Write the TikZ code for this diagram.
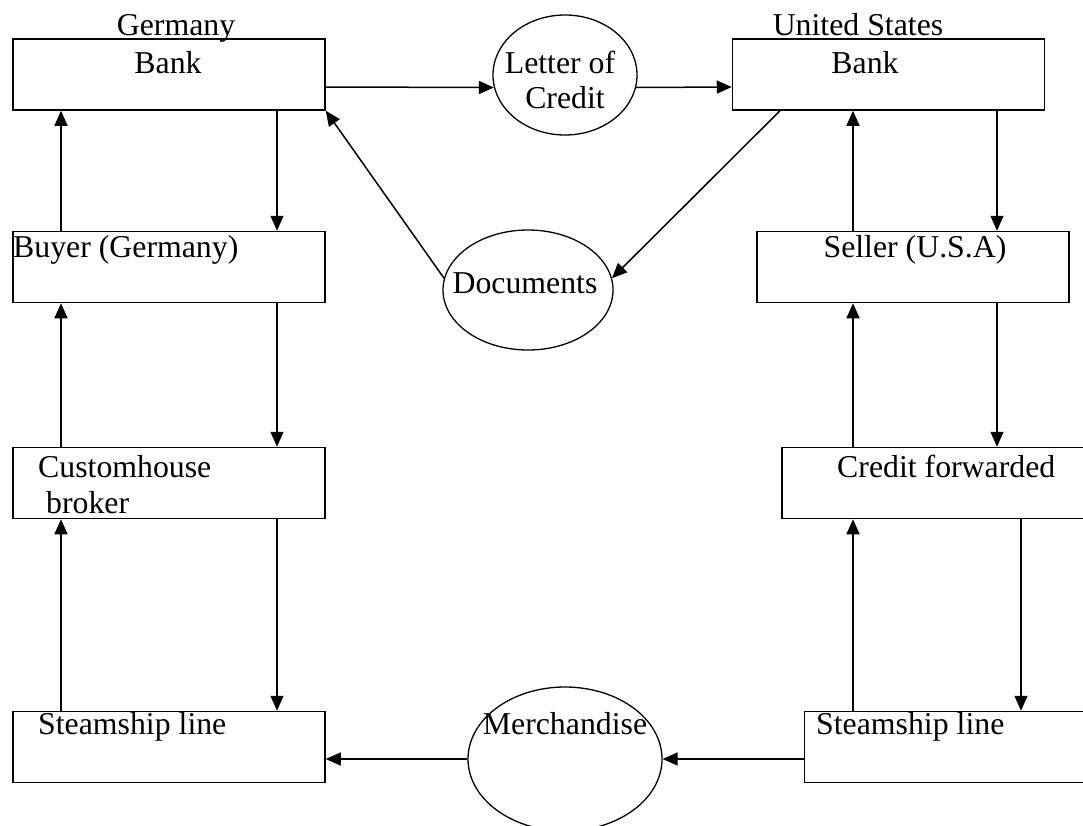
\documentclass[tikz,border=0pt]{standalone}
\usepackage{fontspec}
\setmainfont{Liberation Serif}
\usetikzlibrary{arrows.meta,shapes.geometric}
\tikzset{
  box/.style={draw, line width=1.5pt, rectangle, inner sep=0pt, minimum width=312pt, minimum height=71pt},
  oval/.style={draw, line width=1.3pt, ellipse, inner sep=0pt},
  arr/.style={line width=1.5pt, -{Triangle[length=15pt,width=13pt]}},
  txt/.style={inner sep=0pt, font=\fontsize{31.8}{38}\selectfont},
}
\begin{document}
\begin{tikzpicture}[x=1pt,y=-1pt]
\useasboundingbox[fill=white] (0,0) rectangle (1083,825);
\clip (0,0) rectangle (1083,825);
% boxes
\node[box] (gbank) at (169,74.5) {};
\node[box] (ubank) at (888.5,74.5) {};
\node[box] (buyer) at (169,267) {};
\node[box] (seller) at (913,267) {};
\node[box] (broker) at (169,483) {};
\node[box] (credit) at (938,483) {};
\node[box] (steamL) at (169,747) {};
\node[box] (steamR) at (960.5,747) {};
% ellipses
\node[oval, minimum width=144pt, minimum height=120pt] (loc) at (565,75) {};
\node[oval, minimum width=170pt, minimum height=120pt] (docs) at (528,290) {};
\node[oval, minimum width=194pt, minimum height=144pt] (merch) at (565,759) {};
% texts
\node[txt, anchor=base] (tgermany) at (176,35) {Germany};
\node[txt, anchor=base] (tgbank) at (168,73) {Bank};
\node[txt, anchor=base] (tus) at (858,35.5) {United States};
\node[txt, anchor=base] (tubank) at (865,73) {Bank};
\node[txt, anchor=base] (tloc1) at (560,73) {Letter of};
\node[txt, anchor=base] (tloc2) at (565,108) {Credit};
\node[txt, anchor=base] (tdocs) at (525,293) {Documents};
\node[txt, anchor=base west] (tbuyer) at (13,257) {Buyer (Germany)};
\node[txt, anchor=base] (tseller) at (915,257) {Seller (U.S.A)};
\node[txt, anchor=base west] (tbroker1) at (38,477) {Customhouse};
\node[txt, anchor=base west] (tbroker2) at (46,513) {broker};
\node[txt, anchor=base west] (tcredit) at (837,477) {Credit forwarded};
\node[txt, anchor=base west] (tsteamL) at (38,734) {Steamship line};
\node[txt, anchor=base west] (tsteamR) at (816,734) {Steamship line};
\node[txt, anchor=base] (tmerch) at (565,734) {Merchandise};
% connectors top
\draw[arr] ([yshift=-12.5pt]gbank.east) -- ([yshift=-12.5pt,xshift=1.5pt]loc.west);
\draw[arr] ([yshift=-12.5pt,xshift=-1.5pt]loc.east) -- ([yshift=-12.5pt]ubank.west);
\draw[arr] (docs.172) -- (gbank.south east);
\draw[arr] (ubank.south -| 780,0) -- (docs.8);
% left column
\draw[arr] (buyer.north -| 61,0) -- (gbank.south -| 61,0);
\draw[arr] (gbank.south -| 277,0) -- (buyer.north -| 277,0);
\draw[arr] (broker.north -| 61,0) -- (buyer.south -| 61,0);
\draw[arr] (buyer.south -| 277,0) -- (broker.north -| 277,0);
\draw[arr] (steamL.north -| 61,0) -- (broker.south -| 61,0);
\draw[arr] (broker.south -| 277,0) -- (steamL.north -| 277,0);
% right column
\draw[arr] (seller.north -| 853,0) -- (ubank.south -| 853,0);
\draw[arr] (ubank.south -| 997,0) -- (seller.north -| 997,0);
\draw[arr] (credit.north -| 853,0) -- (seller.south -| 853,0);
\draw[arr] (seller.south -| 997,0) -- (credit.north -| 997,0);
\draw[arr] (steamR.north -| 853,0) -- (credit.south -| 853,0);
\draw[arr] (credit.south -| 1021,0) -- (steamR.north -| 1021,0);
% bottom
\draw[arr] (steamR.west |- merch.east) -- (merch.east);
\draw[arr] (merch.west) -- (steamL.east |- merch.west);
\end{tikzpicture}
\end{document}
